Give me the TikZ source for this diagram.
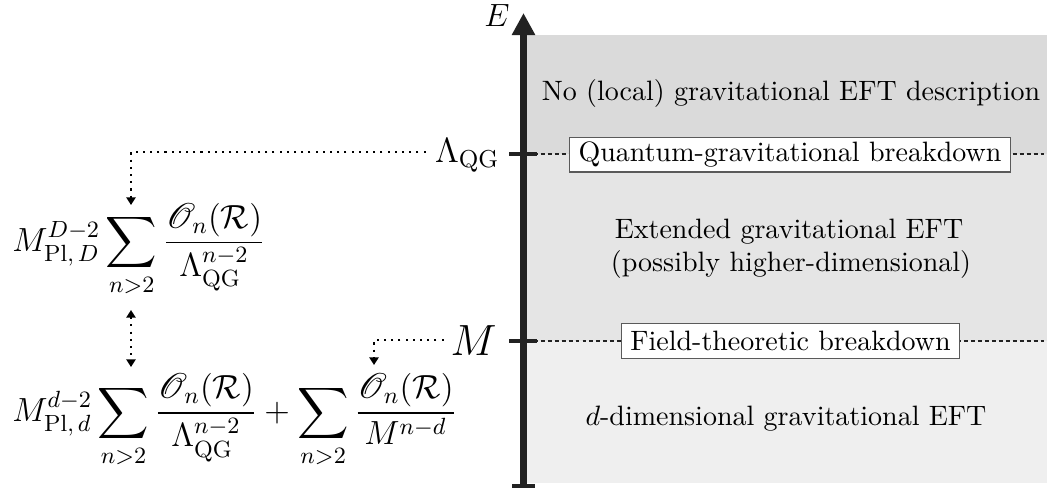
\RequirePackage{fix-cm}
\documentclass[tikz,border=0pt]{standalone}
\usepackage{amsmath,mathrsfs}
\usetikzlibrary{arrows.meta}
\definecolor{topgray}{RGB}{218,218,218}
\definecolor{midgray}{RGB}{229,229,229}
\definecolor{botgray}{RGB}{239,239,239}
\definecolor{axiscol}{RGB}{34,34,34}
\definecolor{boxline}{RGB}{90,90,90}
\begin{document}
\begin{tikzpicture}[x=0.389pt,y=-0.389pt,
  axisline/.style={line width=2.4pt,draw=axiscol},
  tickline/.style={line width=1.9pt,draw=axiscol},
  scaleline/.style={dashed,dash pattern=on 1.5pt off 1.2pt,line width=0.6pt,draw=axiscol},
  breakbox/.style={draw=boxline,line width=0.4pt,fill=white,inner xsep=3.4pt,inner ysep=0pt,minimum height=13.6pt,font=\fontsize{10.9}{13}\selectfont},
  regiontext/.style={font=\fontsize{10.9}{12.9}\selectfont,align=center,text=black},
  formula/.style={font=\fontsize{13.5}{16}\selectfont,inner sep=0pt,scale=0.965},
  pointer/.style={dotted,line width=0.8pt,draw=black,-{Triangle[length=3pt,width=3.6pt]}},
  dpointer/.style={dotted,line width=0.8pt,draw=black,{Triangle[length=3pt,width=3.6pt]}-{Triangle[length=3pt,width=3.6pt]}}
]
\useasboundingbox (0,0) rectangle (1047,488);
% shaded regions
\fill[topgray] (527,35) rectangle (1047,154);
\fill[midgray] (527,154) rectangle (1047,341);
\fill[botgray] (527,341) rectangle (1047,483);
% axis
\coordinate (axbot) at (523.5,486);
\coordinate (axtop) at (523.5,13);
\draw[axisline,-{Triangle[length=8.6pt,width=8.6pt]}] (axbot) -- (axtop);
\draw[tickline] (512,486) -- (535,486);
\draw[tickline] (509,154) -- (537,154);
\draw[tickline] (509,341) -- (537,341);
% dashed scale lines
\coordinate (qgl) at (527,154);
\coordinate (qgr) at (1047,154);
\coordinate (ml) at (527,341);
\coordinate (mr) at (1047,341);
\draw[scaleline] (qgl) -- (qgr);
\draw[scaleline] (ml) -- (mr);
% labels on axis
\node[font=\fontsize{12.5}{14}\selectfont,inner sep=0pt] (E) at (497,16) {$E$};
\node[font=\fontsize{13.6}{16}\selectfont,anchor=base east,inner sep=0pt] (lqg) at (500,162) {$\Lambda_{\mathrm{QG}}$};
\node[font=\fontsize{17}{20}\selectfont,anchor=base east,inner sep=0pt] (Mlab) at (497,355) {$M$};
% region texts
\node[regiontext,anchor=base] (noeft) at (791,100) {No (local) gravitational EFT description};
\node[breakbox] (qgb) at (790,154.5) {Quantum-gravitational breakdown};
\node[regiontext,anchor=base] (ext1) at (789,238) {Extended gravitational EFT};
\node[regiontext,anchor=base] (ext2) at (791,271) {(possibly higher-dimensional)};
\node[breakbox] (ftb) at (790.5,341) {Field-theoretic breakdown};
\node[regiontext,anchor=base] (deft) at (786,425) {$d$-dimensional gravitational EFT};
% formulas
\node[formula,anchor=base west] (f1) at (12,251) {$\displaystyle M_{\mathrm{Pl},\,D}^{D-2}\sum_{n>2}\frac{\mathscr{O}_n(\mathcal{R})}{\Lambda_{\mathrm{QG}}^{n-2}}$};
\node[formula,anchor=base west] (f2) at (12,421.5) {$\displaystyle M_{\mathrm{Pl},\,d}^{d-2}\sum_{n>2}\frac{\mathscr{O}_n(\mathcal{R})}{\Lambda_{\mathrm{QG}}^{n-2}}+\sum_{n>2}\frac{\mathscr{O}_n(\mathcal{R})}{M^{n-d}}$};
% pointers
\coordinate (t1) at (131,205);
\coordinate (d1) at (131,310);
\coordinate (d2) at (131,367);
\coordinate (t2) at (374,365);
\draw[pointer] ([xshift=-3.5pt,yshift=1.2pt]lqg.west) -| (t1);
\draw[dpointer] (d1) -- (d2);
\draw[pointer] ([xshift=-2.5pt]Mlab.west) -| (t2);
\end{tikzpicture}
\end{document}
